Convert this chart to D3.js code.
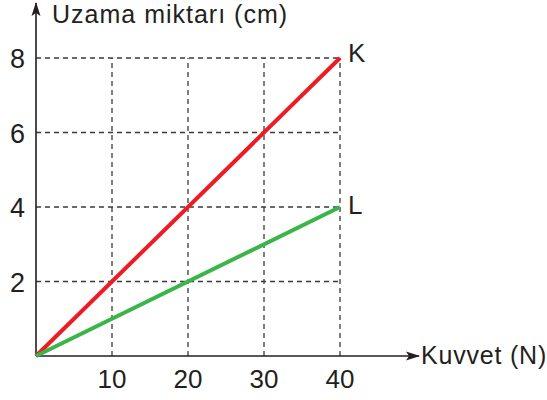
<!DOCTYPE html>
<html>
<head>
<meta charset="utf-8">
<script src="https://cdn.jsdelivr.net/npm/d3@7"></script>
<style>
  body { margin: 0; background: #fff; }
  svg text { font-family: "Liberation Sans", Arial, sans-serif; font-weight: 400; fill: #231f20; }
</style>
</head>
<body>
<div id="chart"></div>
<script>
// chart data
var xTicks = [10, 20, 30, 40]
var yTicks = [2, 4, 6, 8]
var seriesNames = ["K", "L"]
var seriesColors = ["#ed1c24", "#39b54a"]
var forceN = [0, 40]
var stretchK = [0, 8]
var stretchL = [0, 4]

var width = 547, height = 400

var svg = d3.select("#chart").append("svg")
  .attr("width", width).attr("height", height)

var xScale = d3.scaleLinear().domain([0, 40]).range([36, 340])
var yScale = d3.scaleLinear().domain([0, 8]).range([356, 58])

// dashed guide lines
svg.selectAll(".vgrid").data(xTicks).enter().append("line")
  .attr("x1", d => xScale(d)).attr("x2", d => xScale(d))
  .attr("y1", yScale(0)).attr("y2", yScale(8))
  .attr("stroke", "#3a3a3a").attr("stroke-width", 1.3)
  .attr("stroke-dasharray", "5,4")

svg.selectAll(".hgrid").data(yTicks).enter().append("line")
  .attr("x1", xScale(0)).attr("x2", xScale(40))
  .attr("y1", d => yScale(d)).attr("y2", d => yScale(d))
  .attr("stroke", "#3a3a3a").attr("stroke-width", 1.3)
  .attr("stroke-dasharray", "5,4")

// axes with arrows
svg.append("defs").append("marker")
  .attr("id", "arrow").attr("viewBox", "0 0 14 10")
  .attr("refX", 13).attr("refY", 5)
  .attr("markerWidth", 14).attr("markerHeight", 10)
  .attr("markerUnits", "userSpaceOnUse")
  .attr("orient", "auto")
  .append("path").attr("d", "M0,0.5 L14,5 L0,9.5 L3,5 Z").attr("fill", "#231f20")

svg.append("line")
  .attr("x1", xScale(0)).attr("x2", xScale(0))
  .attr("y1", yScale(0)).attr("y2", 3)
  .attr("stroke", "#231f20").attr("stroke-width", 1.6)
  .attr("marker-end", "url(#arrow)")

svg.append("line")
  .attr("x1", xScale(0)).attr("x2", 419)
  .attr("y1", yScale(0)).attr("y2", yScale(0))
  .attr("stroke", "#231f20").attr("stroke-width", 1.6)
  .attr("marker-end", "url(#arrow)")

// tick labels
svg.selectAll(".xlab").data(xTicks).enter().append("text")
  .attr("x", d => xScale(d)).attr("y", 388)
  .attr("text-anchor", "middle").style("font-size", "26px")
  .text(d => d)

svg.selectAll(".ylab").data(yTicks).enter().append("text")
  .attr("x", 25).attr("y", d => yScale(d) + 10)
  .attr("text-anchor", "end").style("font-size", "27px")
  .text(d => d)

// axis titles
svg.append("text").attr("x", 52).attr("y", 23)
  .style("font-size", "25px").style("letter-spacing", "1px")
  .text("Uzama miktarı (cm)")
svg.append("text").attr("x", 421).attr("y", 364)
  .style("font-size", "25px").style("letter-spacing", "0.8px")
  .text("Kuvvet (N)")

// lines
var line = d3.line().x(d => xScale(d[0])).y(d => yScale(d[1]))
var series = [stretchK, stretchL]
var labelShift = [4, 7]

series.forEach((s, i) => {
  var pts = forceN.map((f, j) => [f, s[j]])
  svg.append("path").datum(pts)
    .attr("d", line)
    .attr("fill", "none")
    .attr("stroke", seriesColors[i])
    .attr("stroke-width", 4)
  svg.append("text")
    .attr("x", xScale(forceN[1]) + 8)
    .attr("y", yScale(s[1]) + labelShift[i])
    .style("font-size", "26px")
    .text(seriesNames[i])
})
</script>
</body>
</html>
